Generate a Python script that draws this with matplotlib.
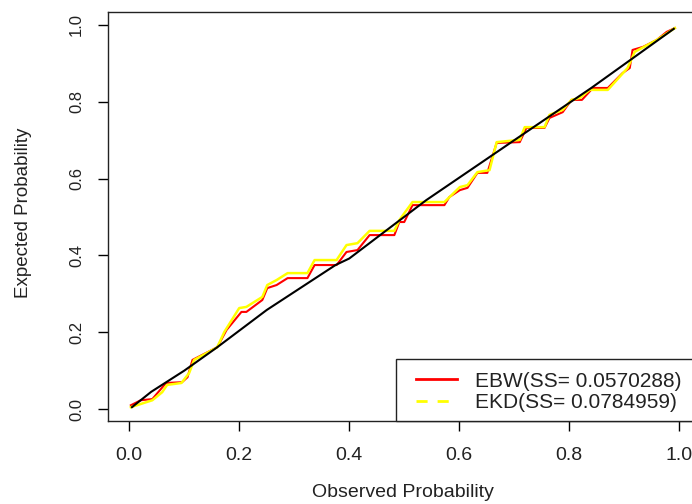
import matplotlib

matplotlib.use("Agg")

import matplotlib.pyplot as plt
from matplotlib.lines import Line2D
from matplotlib.patches import Rectangle

plt.rcParams["font.family"] = ["Liberation Sans", "DejaVu Sans"]

# diagonal reference line
ref_x = [0.005, 0.04, 0.10, 0.16, 0.25, 0.375, 0.40, 0.54, 0.70, 0.84, 0.99]
ref_y = [0.005, 0.045, 0.10, 0.161, 0.258, 0.375, 0.392, 0.544, 0.70, 0.836, 0.99]

# EBW curve
ebw_x = [0.003, 0.021, 0.042, 0.067, 0.096, 0.106, 0.115, 0.160, 0.177, 0.204,
         0.213, 0.242, 0.251, 0.268, 0.288, 0.324, 0.337, 0.377, 0.395, 0.415,
         0.437, 0.482, 0.491, 0.500, 0.515, 0.573, 0.582, 0.601, 0.615, 0.633,
         0.651, 0.668, 0.710, 0.722, 0.755, 0.764, 0.788, 0.804, 0.823, 0.843,
         0.870, 0.897, 0.910, 0.915, 0.934, 0.959, 0.977, 0.992]
ebw_y = [0.010, 0.023, 0.026, 0.068, 0.070, 0.083, 0.128, 0.161, 0.206, 0.253,
         0.253, 0.284, 0.315, 0.323, 0.341, 0.341, 0.375, 0.375, 0.409, 0.414,
         0.453, 0.453, 0.487, 0.487, 0.531, 0.531, 0.552, 0.570, 0.576, 0.615,
         0.615, 0.693, 0.695, 0.732, 0.732, 0.758, 0.773, 0.805, 0.805, 0.836,
         0.836, 0.875, 0.888, 0.935, 0.943, 0.961, 0.982, 0.992]

# EKD curve
ekd_x = [0.003, 0.042, 0.060, 0.069, 0.095, 0.109, 0.118, 0.160, 0.173, 0.200,
         0.213, 0.242, 0.251, 0.268, 0.288, 0.324, 0.337, 0.377, 0.395, 0.415,
         0.437, 0.482, 0.491, 0.515, 0.573, 0.601, 0.615, 0.633, 0.655, 0.668,
         0.710, 0.719, 0.755, 0.764, 0.788, 0.804, 0.819, 0.837, 0.870, 0.906,
         0.919, 0.959, 0.992]
ekd_y = [0.005, 0.023, 0.044, 0.063, 0.068, 0.094, 0.128, 0.161, 0.201, 0.263,
         0.266, 0.292, 0.323, 0.336, 0.354, 0.354, 0.388, 0.388, 0.427, 0.432,
         0.464, 0.464, 0.492, 0.539, 0.539, 0.578, 0.583, 0.617, 0.622, 0.695,
         0.701, 0.734, 0.734, 0.766, 0.779, 0.805, 0.810, 0.831, 0.831, 0.888,
         0.930, 0.961, 0.992]

labels = ["EBW(SS= 0.0570288)", "EKD(SS= 0.0784959)"]
ticks = [0.0, 0.2, 0.4, 0.6, 0.8, 1.0]
tick_labels = ["0.0", "0.2", "0.4", "0.6", "0.8", "1.0"]

W, H = 692, 504
fig = plt.figure(figsize=(W / 100, H / 100), dpi=100)
# axes box runs off the right edge of the picture, like the cropped original
ax = fig.add_axes([108.3 / W, (H - 421) / H, 594.1 / W, 408.7 / H])

ax.plot(ebw_x, ebw_y, color="red", lw=1.5, zorder=2)
ax.plot(ekd_x, ekd_y, color="#ffff00", lw=1.8, zorder=3)
ax.plot(ref_x, ref_y, color="black", lw=1.5, zorder=4)

ax.set_xlim(-0.038, 1.042)
ax.set_ylim(-0.031, 1.033)

ax.set_xticks(ticks)
ax.set_xticklabels(tick_labels, fontsize=14, color="#222222")
ax.set_yticks(ticks)
ax.set_yticklabels(tick_labels, fontsize=12, rotation=90, va="center",
                   color="#222222")
ax.tick_params(axis="x", direction="out", length=7.2, width=1.0, pad=11.5)
ax.tick_params(axis="y", direction="out", length=7.5, width=1.0, pad=10)
for sp in ax.spines.values():
    sp.set_linewidth(1.0)
    sp.set_color("#222222")

ax.set_xlabel("Observed Probability", fontsize=14, color="#222222")
ax.xaxis.set_label_coords(0.496, -0.153)
ax.set_ylabel("Expected Probability", fontsize=13.5, color="#222222")
ax.yaxis.set_label_coords(-0.1285, 0.51)

# legend drawn by hand so the box can hang off the right edge
ax.add_patch(Rectangle((0.4838, 0.0), 0.6, 0.151, transform=ax.transAxes,
                       facecolor="white", edgecolor="#222222", lw=1.0,
                       zorder=5, clip_on=False))
ax.add_line(Line2D([0.518, 0.587], [0.1028, 0.1028], transform=ax.transAxes,
                   color="red", lw=2.0, zorder=6))
ax.add_line(Line2D([0.518, 0.587], [0.0489, 0.0489], transform=ax.transAxes,
                   color="#ffff00", lw=2.0, dashes=(4.0, 3.6), zorder=6))
ax.text(0.617, 0.0839, labels[0], transform=ax.transAxes, fontsize=15,
        va="baseline", ha="left", color="#222222", zorder=6)
ax.text(0.617, 0.031, labels[1], transform=ax.transAxes, fontsize=15,
        va="baseline", ha="left", color="#222222", zorder=6)

fig.savefig("out.png", dpi=100)
